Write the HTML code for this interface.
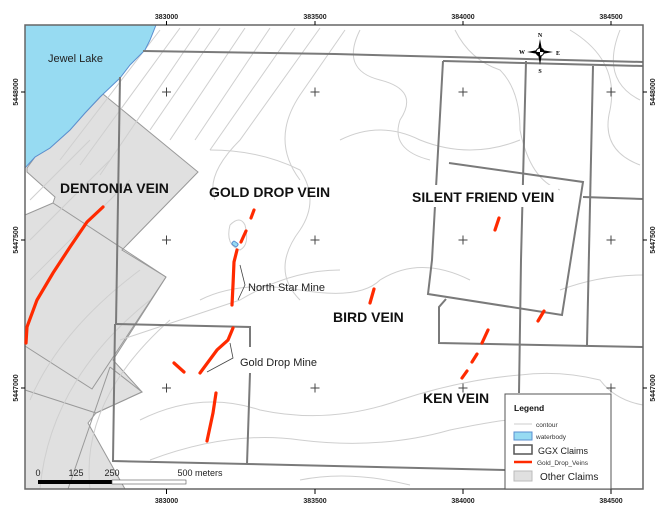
<!DOCTYPE html>
<html><head><meta charset="utf-8"><style>
html,body{margin:0;padding:0;background:#fff;}
svg{display:block;font-family:"Liberation Sans",sans-serif;}
</style></head><body>
<svg width="671" height="515" viewBox="0 0 671 515" xmlns="http://www.w3.org/2000/svg">
<rect width="671" height="515" fill="#fff"/>
<!-- other claims -->
<polygon points="27,168 35,157 50,148 70,130 85,113 103,94 198,172 122,250 166,277 113,360 142,392 96,413 88,423 125,489 25,489 25,215 53,203 55,197 27,172" fill="#e0e0e0" stroke="#999" stroke-width="1"/>
<g stroke="#999" stroke-width="1" fill="none">
<polyline points="53,203 166,277"/>
<polyline points="166,277 92,389 25,346"/>
<polyline points="25,390 96,413"/>
<polyline points="110,367 68,489"/>
<polyline points="96,413 142,392 110,367"/>
</g>
<!-- contours -->
<g stroke="#cfcfcf" stroke-width="1" fill="none">
<path d="M160,30 L60,160"/><path d="M180,28 L80,165"/><path d="M200,28 L100,175"/><path d="M220,28 L150,130"/><path d="M245,28 L170,140"/><path d="M270,28 L195,140"/><path d="M295,28 L210,150"/><path d="M320,28 L240,140 Q205,175 215,200"/>
<path d="M345,30 L300,95 Q270,140 300,180"/>
<path d="M30,200 L90,140"/><path d="M30,240 L110,160"/><path d="M30,280 L130,180"/>
<path d="M30,400 Q60,330 140,270"/><path d="M40,489 Q50,380 150,300"/><path d="M90,489 Q80,400 170,320"/>
<path d="M360,30 Q340,70 380,80 Q420,90 400,120 Q390,150 430,160"/>
<path d="M455,30 Q470,60 500,70 Q520,90 520,130 Q530,180 560,190"/>
<path d="M570,30 Q620,60 610,110 Q600,150 640,165"/>
<path d="M620,30 Q600,80 640,100"/>
<path d="M340,140 Q380,120 420,140 Q470,160 520,140"/>
<path d="M200,300 Q240,280 300,290 Q360,300 380,280 Q420,255 470,280"/>
<path d="M120,340 Q180,320 240,300 Q290,270 340,270"/>
<path d="M140,420 Q200,390 260,410 Q330,425 400,400 Q460,380 520,375 Q560,370 600,380 Q615,400 643,405"/>
<path d="M150,460 Q230,430 300,440 Q380,450 450,430 Q500,420 510,420"/>
<path d="M300,480 Q350,470 410,485"/>
<path d="M230,225 Q225,245 240,250 Q250,245 245,225 Q240,215 230,225"/>
<path d="M210,150 Q260,150 300,170 Q320,200 300,230 Q270,270 300,300"/>
<path d="M560,290 Q600,275 643,275"/>
</g>
<!-- lake -->
<path d="M25,25 L156,25 L150,40 L145,50 L130,65 L120,78 L100,97 L85,113 L70,130 L50,148 L35,157 L25,168 Z" fill="#97dbf2" stroke="#5a8fd0" stroke-width="1"/>
<!-- GGX claims -->
<g stroke="#7a7a7a" stroke-width="2" fill="none">
<polyline points="143,51 335,54 643,62"/>
<polyline points="443,61 643,66"/>
<polyline points="120,77 116,325"/>
<polyline points="115,324 250,327 250,347"/>
<polyline points="250,373 247,464 113,461 115,324"/>
<polyline points="247,464 505,470"/>
<polyline points="443,61 432,260 428,294 562,315 583,182 449,163"/>
<polyline points="446,299 439,307 439,343 643,347"/>
<polyline points="526,61 521,260 519,393"/>
<polyline points="593,66 587,345"/>
<polyline points="583,197 643,199"/>
</g>
<!-- frame -->
<rect x="25" y="25" width="618" height="464" fill="none" stroke="#666" stroke-width="1.5"/>
<g stroke="#000" stroke-width="1">
<line x1="166.5" y1="21" x2="166.5" y2="25"/><line x1="315" y1="21" x2="315" y2="25"/><line x1="463" y1="21" x2="463" y2="25"/><line x1="611" y1="21" x2="611" y2="25"/>
<line x1="166.5" y1="489" x2="166.5" y2="494"/><line x1="315" y1="489" x2="315" y2="494"/><line x1="463" y1="489" x2="463" y2="494"/><line x1="611" y1="489" x2="611" y2="494"/>
<line x1="21" y1="92" x2="25" y2="92"/><line x1="21" y1="240" x2="25" y2="240"/><line x1="21" y1="388" x2="25" y2="388"/>
<line x1="643" y1="92" x2="647" y2="92"/><line x1="643" y1="240" x2="647" y2="240"/><line x1="643" y1="388" x2="647" y2="388"/>
</g>
<g font-size="7" font-weight="bold" fill="#222" text-anchor="middle">
<text x="166.5" y="19">383000</text><text x="315" y="19">383500</text><text x="463" y="19">384000</text><text x="611" y="19">384500</text>
<text x="166.5" y="503">383000</text><text x="315" y="503">383500</text><text x="463" y="503">384000</text><text x="611" y="503">384500</text>
<text transform="translate(18,92) rotate(-90)">5448000</text>
<text transform="translate(18,240) rotate(-90)">5447500</text>
<text transform="translate(18,388) rotate(-90)">5447000</text>
<text transform="translate(655,92) rotate(-90)">5448000</text>
<text transform="translate(655,240) rotate(-90)">5447500</text>
<text transform="translate(655,388) rotate(-90)">5447000</text>
</g>
<!-- crosses -->
<g stroke="#444" stroke-width="1">
<path d="M162,92h9M166.5,87.5v9M310.5,92h9M315,87.5v9M458.5,92h9M463,87.5v9M606.5,92h9M611,87.5v9"/>
<path d="M162,240h9M166.5,235.5v9M310.5,240h9M315,235.5v9M458.5,240h9M463,235.5v9M606.5,240h9M611,235.5v9"/>
<path d="M162,388h9M166.5,383.5v9M310.5,388h9M315,383.5v9M458.5,388h9M463,383.5v9M606.5,388h9M611,383.5v9"/>
</g>
<!-- veins -->
<g stroke="#ff2a00" stroke-width="3.2" fill="none" stroke-linecap="round">
<polyline points="103,207 87,222 70,247 53,273 37,300 27,327 26,343"/>
<line x1="254" y1="210" x2="251" y2="218"/><line x1="246" y1="231" x2="241" y2="242"/>
<polyline points="237,250 234,262 233,285 232,305"/>
<polyline points="233,328 228,340 217,350 200,373"/>
<line x1="174" y1="363" x2="184" y2="372"/>
<polyline points="216,393 213,413 207,441"/>
<line x1="499" y1="218" x2="495" y2="230"/>
<line x1="374" y1="289" x2="370" y2="303"/>
<line x1="488" y1="330" x2="482" y2="343"/><line x1="477" y1="354" x2="472" y2="362"/><line x1="467" y1="371" x2="462" y2="378"/>
<line x1="544" y1="311" x2="538" y2="321"/>
</g>
<rect x="232" y="242" width="6" height="4" rx="1.5" fill="#97dbf2" stroke="#5a8fd0" transform="rotate(35 235 244)"/>
<!-- leaders -->
<g stroke="#444" stroke-width="0.8" fill="none">
<polyline points="240,265 245,285 238,300"/>
<polyline points="230,343 233,358 207,372"/>
</g>
<!-- labels -->
<text x="48" y="62" font-size="11" fill="#222">Jewel Lake</text>
<g font-size="14" font-weight="bold" fill="#111">
<text x="60" y="193">DENTONIA VEIN</text>
<text x="209" y="197">GOLD DROP VEIN</text>
<rect x="410" y="185" width="148" height="22" fill="#fff"/>
<text x="412" y="202">SILENT FRIEND VEIN</text>
<text x="333" y="322">BIRD VEIN</text>
<text x="423" y="403">KEN VEIN</text>
</g>
<text x="248" y="291" font-size="11" fill="#222">North Star Mine</text>
<rect x="238" y="355" width="80" height="14" fill="#fff"/>
<text x="240" y="366" font-size="11" fill="#222">Gold Drop Mine</text>
<!-- compass -->
<g transform="translate(540,52)">
<polygon points="0,-13 2,-2 0,0 -2,-2" fill="#000"/>
<polygon points="0,13 2,2 0,0 -2,2" fill="#000"/>
<polygon points="-13,0 -2,-2 0,0 -2,2" fill="#000"/>
<polygon points="13,0 2,-2 0,0 2,2" fill="#000"/>
<circle r="4" fill="#fff" stroke="#000" stroke-width="1"/>
<path d="M0,-4 A4,4 0 0 1 4,0 L0,0Z M0,4 A4,4 0 0 1 -4,0 L0,0Z" fill="#000"/>
<g font-family="Liberation Serif,serif" font-size="6" font-weight="bold" text-anchor="middle">
<text x="0" y="-15">N</text><text x="0" y="21">S</text><text x="-18" y="2">W</text><text x="18" y="3">E</text></g>
</g>
<!-- scale bar -->
<rect x="38" y="480" width="74" height="4" fill="#000"/>
<rect x="112" y="480" width="74" height="4" fill="#fff" stroke="#555" stroke-width="0.6"/>
<g font-size="9" fill="#222" text-anchor="middle">
<text x="38" y="476">0</text><text x="76" y="476">125</text><text x="112" y="476">250</text><text x="200" y="476">500 meters</text>
</g>
<!-- legend -->
<rect x="505" y="394" width="106" height="95" fill="#fff" stroke="#555" stroke-width="1"/>
<text x="514" y="411" font-size="8.5" font-weight="bold" fill="#111">Legend</text>
<line x1="514" y1="424" x2="532" y2="424" stroke="#ccc" stroke-width="1"/>
<text x="536" y="427" font-size="6.5" fill="#333">contour</text>
<rect x="514" y="432" width="18" height="8" fill="#97dbf2" stroke="#5a8fd0"/>
<text x="536" y="439" font-size="6.5" fill="#333">waterbody</text>
<rect x="514" y="445" width="18" height="9" fill="#fff" stroke="#555" stroke-width="1.5"/>
<text x="538" y="454" font-size="9" fill="#222">GGX Claims</text>
<line x1="514" y1="462" x2="532" y2="462" stroke="#ff2a00" stroke-width="2.5"/>
<text x="537" y="465" font-size="6.5" fill="#333">Gold_Drop_Veins</text>
<rect x="514" y="471" width="18" height="10" fill="#e0e0e0" stroke="#bbb"/>
<text x="540" y="480" font-size="10" fill="#222">Other Claims</text>
</svg>
</body></html>
